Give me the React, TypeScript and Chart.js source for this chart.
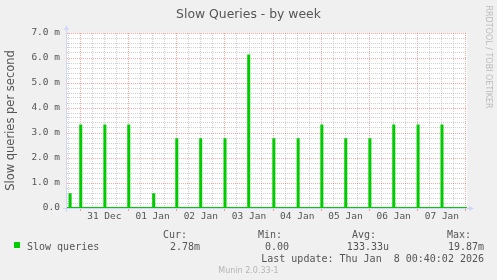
import React, { useEffect, useRef } from 'react';
import { Chart, registerables } from 'chart.js';

Chart.register(...registerables);

// Hours relative to 31 Dec 00:00
const spikeHours = [-5.3, 0, 12, 23.9, 36.3, 47.8, 59.7, 71.8, 83.6, 96.1, 108.2, 120, 131.9, 143.9, 155.8, 167.9, 179.8];
// Slow queries per second, in milli units
const spikeValues = [0.55, 3.3, 3.3, 3.3, 0.55, 2.75, 2.75, 2.75, 6.1, 2.75, 2.75, 3.3, 2.75, 2.75, 3.3, 3.3, 3.3];

const xTickLabels = ['31 Dec', '01 Jan', '02 Jan', '03 Jan', '04 Jan', '05 Jan', '06 Jan', '07 Jan'];
const yTickLabels = ['0.0', '1.0 m', '2.0 m', '3.0 m', '4.0 m', '5.0 m', '6.0 m', '7.0 m'];
const legendHeaders = ['Cur:', 'Min:', 'Avg:', 'Max:'];
const legendValues = ['2.78m', '0.00', '133.33u', '19.87m'];
const seriesName = 'Slow queries';
const chartTitle = 'Slow Queries - by week';
const yAxisTitle = 'Slow queries per second';
const lastUpdate = 'Last update: Thu Jan  8 00:40:02 2026';
const footer = 'Munin 2.0.33-1';
const watermark = 'RRDTOOL / TOBI OETIKER';

const X_MIN = -6.6;
const X_MAX = 192.5;
const Y_MAX = 7;

const GREEN = '#00CC00';
const MAJOR = 'rgba(255, 0, 0, 0.35)';
const MINOR = 'rgba(170, 170, 170, 0.55)';
const AXIS = '#CFD6F8';
const TEXT = '#555555';
const MONO = '"DejaVu Sans Mono"';
const SANS = '"DejaVu Sans"';

export default function App() {
  const ref = useRef<HTMLCanvasElement>(null);

  useEffect(() => {
    document.body.style.margin = '0';
    const canvas = ref.current;
    if (!canvas) return;

    const points: { x: number; y: number }[] = [{ x: X_MIN, y: 0 }];
    spikeHours.forEach((h, i) => {
      const v = spikeValues[i];
      points.push({ x: h, y: 0 }, { x: h, y: v }, { x: h + 0.5, y: v }, { x: h + 0.5, y: 0 });
    });
    points.push({ x: X_MAX, y: 0 });

    const background = {
      id: 'bg',
      beforeDraw(chart: any) {
        const { ctx, chartArea } = chart;
        ctx.save();
        ctx.fillStyle = '#F0F0F0';
        ctx.fillRect(0, 0, chart.width, chart.height);
        ctx.fillStyle = '#FFFFFF';
        ctx.fillRect(chartArea.left, chartArea.top, chartArea.right - chartArea.left, chartArea.bottom - chartArea.top);
        ctx.restore();
      },
    };

    const axes = {
      id: 'axes',
      beforeDatasetsDraw(chart: any) {
        const { ctx, chartArea } = chart;
        const ax = chartArea.left - 0.5;
        const ay = chartArea.bottom + 0.5;
        ctx.save();
        ctx.strokeStyle = AXIS;
        ctx.fillStyle = AXIS;
        ctx.lineWidth = 1;
        ctx.beginPath();
        ctx.moveTo(ax, chartArea.bottom + 4);
        ctx.lineTo(ax, chartArea.top - 4);
        ctx.moveTo(chartArea.left - 4, ay);
        ctx.lineTo(chartArea.right + 3, ay);
        ctx.stroke();
        ctx.beginPath();
        ctx.moveTo(ax - 2.5, chartArea.top - 3);
        ctx.lineTo(ax + 2.5, chartArea.top - 3);
        ctx.lineTo(ax, chartArea.top - 8);
        ctx.closePath();
        ctx.fill();
        ctx.beginPath();
        ctx.moveTo(chartArea.right + 2, ay - 2.5);
        ctx.lineTo(chartArea.right + 2, ay + 2.5);
        ctx.lineTo(chartArea.right + 7, ay);
        ctx.closePath();
        ctx.fill();
        ctx.restore();
      },
    };

    const texts = {
      id: 'texts',
      afterDraw(chart: any) {
        const { ctx } = chart;
        ctx.save();
        ctx.textBaseline = 'alphabetic';
        // title
        ctx.fillStyle = TEXT;
        ctx.font = `12.4px ${SANS}`;
        ctx.textAlign = 'center';
        ctx.fillText(chartTitle, 248.5, 18);
        // watermark
        ctx.save();
        ctx.translate(488.5, 57);
        ctx.rotate(Math.PI / 2);
        ctx.fillStyle = '#BBBBBB';
        ctx.font = `8px ${SANS}`;
        ctx.textAlign = 'center';
        ctx.textBaseline = 'middle';
        ctx.fillText(watermark, 0, 0);
        ctx.restore();
        // legend
        ctx.fillStyle = GREEN;
        ctx.fillRect(14, 242, 6, 6);
        ctx.fillStyle = TEXT;
        ctx.font = `10px ${MONO}`;
        ctx.textAlign = 'left';
        ctx.fillText(seriesName, 27, 250);
        const headerX = [163, 258, 352, 447];
        const valueX = [200, 289, 389, 484];
        legendHeaders.forEach((h, i) => {
          ctx.textAlign = 'left';
          ctx.fillText(h, headerX[i], 238);
          ctx.textAlign = 'right';
          ctx.fillText(legendValues[i], valueX[i], 250);
        });
        ctx.textAlign = 'right';
        ctx.fillText(lastUpdate, 484, 262);
        // footer
        ctx.fillStyle = '#B5B5B5';
        ctx.font = `8px ${SANS}`;
        ctx.textAlign = 'center';
        ctx.fillText(footer, 248.5, 273);
        ctx.restore();
      },
    };

    const chart = new Chart(canvas, {
      type: 'line',
      data: {
        datasets: [
          {
            label: seriesName,
            data: points,
            borderColor: GREEN,
            backgroundColor: GREEN,
            borderWidth: 2,
            pointRadius: 0,
            tension: 0,
            fill: false,
          },
        ],
      },
      options: {
        responsive: false,
        animation: false,
        devicePixelRatio: 1,
        events: [],
        layout: { padding: { top: 33, right: 30, left: 0, bottom: 0 } },
        plugins: { legend: { display: false }, tooltip: { enabled: false }, title: { display: false } },
        scales: {
          x: {
            type: 'linear',
            min: X_MIN,
            max: X_MAX,
            afterBuildTicks: (scale: any) => {
              const t: { value: number }[] = [];
              for (let h = -6; h <= 192; h += 6) t.push({ value: h });
              scale.ticks = t;
            },
            afterFit: (scale: any) => {
              scale.height = 72;
            },
            grid: {
              color: (c: any) => (c.tick && c.tick.value % 24 === 0 ? MAJOR : MINOR),
              lineWidth: 1,
              drawTicks: true,
              tickLength: 3,
              tickColor: (c: any) => (c.tick && c.tick.value % 24 === 0 ? MAJOR : 'rgba(0,0,0,0)'),
            },
            border: { display: false, dash: [1, 1] },
            ticks: {
              autoSkip: false,
              maxRotation: 0,
              minRotation: 0,
              padding: 0,
              color: TEXT,
              font: { family: 'DejaVu Sans Mono', size: 9.5 },
              callback: (v: any) => {
                const n = Number(v);
                if (((n % 24) + 24) % 24 !== 12) return '';
                return xTickLabels[(n - 12) / 24] ?? '';
              },
            },
          },
          y: {
            type: 'linear',
            min: 0,
            max: Y_MAX,
            afterBuildTicks: (scale: any) => {
              const t: { value: number }[] = [];
              for (let i = 0; i <= Y_MAX * 5; i++) t.push({ value: i / 5 });
              scale.ticks = t;
            },
            afterFit: (scale: any) => {
              scale.width = 67;
            },
            grid: {
              color: (c: any) => (c.index % 5 === 0 ? MAJOR : MINOR),
              lineWidth: 1,
              drawTicks: false,
            },
            border: { display: false, dash: [1, 1] },
            ticks: {
              autoSkip: false,
              padding: 7,
              color: TEXT,
              font: { family: 'DejaVu Sans Mono', size: 9.5 },
              callback: (_v: any, index: number) => (index % 5 === 0 ? yTickLabels[index / 5] : ''),
            },
            title: {
              display: true,
              text: yAxisTitle,
              color: TEXT,
              font: { family: 'DejaVu Sans', size: 11.5 },
              padding: { top: 4, bottom: 0 },
            },
          },
        },
      },
      plugins: [background, axes, texts],
    } as any);

    return () => chart.destroy();
  }, []);

  return (
    <div style={{ width: 497, height: 280 }}>
      <canvas ref={ref} width={497} height={280} style={{ display: 'block', width: 497, height: 280 }} />
    </div>
  );
}
